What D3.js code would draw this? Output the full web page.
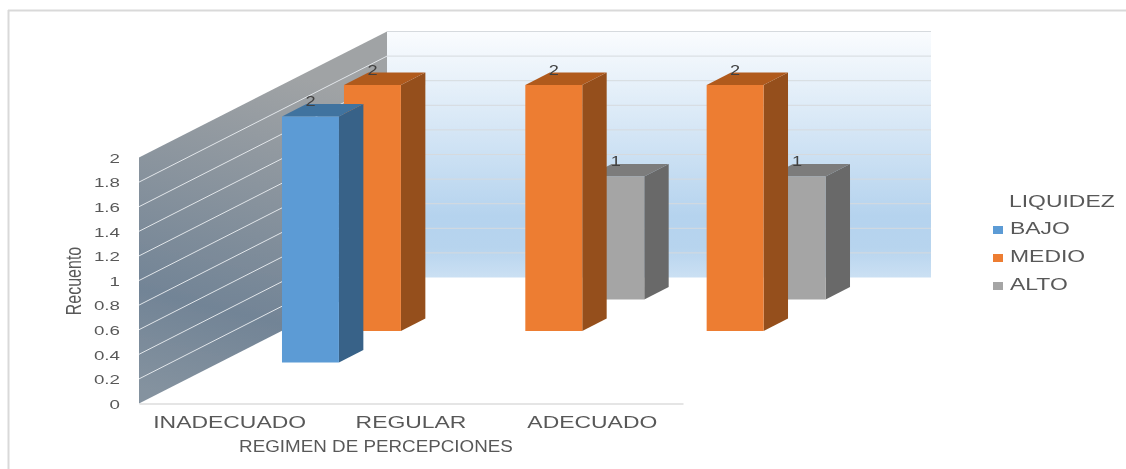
<!DOCTYPE html>
<html>
<head>
<meta charset="utf-8">
<script src="https://cdn.jsdelivr.net/npm/d3@7"></script>
<style>
  html, body { margin: 0; padding: 0; background: #fff; overflow: hidden; }
  text { font-family: "Liberation Sans", Arial, sans-serif; }
</style>
</head>
<body>
<div id="chart-area"></div>
<script>
// chart data
const categories = ["INADECUADO", "REGULAR", "ADECUADO"]
const seriesNames = ["BAJO", "MEDIO", "ALTO"]
const bajoValues = [2, null, null]
const medioValues = [2, 2, 2]
const altoValues = [null, 1, 1]
const yTicks = [0, 0.2, 0.4, 0.6, 0.8, 1, 1.2, 1.4, 1.6, 1.8, 2]
const seriesColors = ["#5b9bd5", "#ed7d31", "#a5a5a5"]
const topColors = ["#41739f", "#b05a1f", "#7b7b7b"]
const sideColors = ["#376288", "#95501b", "#696969"]

const WIDTH = 1126
const HEIGHT = 469

// front plane of the 3d box and how far the back wall is shifted
const FRONT = { LEFT: 139, RIGHT: 683, TOP: 157.5, BOTTOM: 403.5 }
const DEPTH = { X: 248, Y: 126 }
// the source picture was stretched sideways, so all text is too
const STRETCH = 1.39
const TEXT_SIZE = 16.5

const svg = d3.select("#chart-area").append("svg")
    .attr("width", WIDTH)
    .attr("height", HEIGHT)

const defs = svg.append("defs")

const soft = defs.append("filter").attr("id", "soft")
    .attr("filterUnits", "userSpaceOnUse")
    .attr("x", 0).attr("y", 0).attr("width", WIDTH).attr("height", HEIGHT)
soft.append("feGaussianBlur").attr("stdDeviation", 0.6)

const backGrad = defs.append("linearGradient").attr("id", "backWall")
    .attr("x1", 0).attr("y1", 0).attr("x2", 0).attr("y2", 1)
backGrad.append("stop").attr("offset", "0").attr("stop-color", "#fafcfe")
backGrad.append("stop").attr("offset", "0.75").attr("stop-color", "#b5d3ee")
backGrad.append("stop").attr("offset", "0.88").attr("stop-color", "#b7d4ee")
backGrad.append("stop").attr("offset", "1").attr("stop-color", "#cbe0f3")

const sideGrad = defs.append("linearGradient").attr("id", "sideWall")
    .attr("gradientUnits", "userSpaceOnUse")
    .attr("x1", 270).attr("y1", 70).attr("x2", 190).attr("y2", 400)
sideGrad.append("stop").attr("offset", "0").attr("stop-color", "#a0a3a5")
sideGrad.append("stop").attr("offset", "0.72").attr("stop-color", "#728496")
sideGrad.append("stop").attr("offset", "1").attr("stop-color", "#84929f")

const root = svg.append("g").attr("filter", "url(#soft)")

// scales
const x = d3.scaleBand()
    .domain(categories)
    .range([FRONT.LEFT, FRONT.RIGHT])
    .paddingInner(0.686)
    .paddingOuter(0.343)

const y = d3.scaleLinear()
    .domain([0, 2])
    .range([FRONT.BOTTOM, FRONT.TOP])

// depth axis has an empty first slot, the bars sit in the last three
const z = d3.scaleBand()
    .domain(["", ...seriesNames])
    .range([0, 1])
    .paddingInner(0.606)
    .paddingOuter(0.303)

// z is 0 at the front plane, 1 at the back wall
const px = (xv, zv) => xv + zv * DEPTH.X
const py = (yv, zv) => yv - zv * DEPTH.Y
const pts = list => list.map(p => [px(p[0], p[2]), py(p[1], p[2])].join(",")).join(" ")

// frame of the pasted picture
root.append("line").attr("x1", 8).attr("x2", WIDTH).attr("y1", 10.5).attr("y2", 10.5)
    .attr("stroke", "#d9d9d9").attr("stroke-width", 2)
root.append("line").attr("x1", 8.5).attr("x2", 8.5).attr("y1", 10).attr("y2", HEIGHT)
    .attr("stroke", "#d9d9d9").attr("stroke-width", 2)

// walls
const y0 = y(0), y2 = y(2), xl = FRONT.LEFT, xr = FRONT.RIGHT

root.append("polygon")
    .attr("points", pts([[xl, y0, 1], [xr, y0, 1], [xr, y2, 1], [xl, y2, 1]]))
    .attr("fill", "url(#backWall)")

root.append("polygon")
    .attr("points", pts([[xl, y0, 0], [xl, y0, 1], [xl, y2, 1], [xl, y2, 0]]))
    .attr("fill", "url(#sideWall)")

root.selectAll(".back-grid")
    .data(yTicks.slice(1))
    .enter().append("line")
    .attr("class", "back-grid")
    .attr("x1", px(xl, 1)).attr("x2", px(xr, 1))
    .attr("y1", d => py(y(d), 1)).attr("y2", d => py(y(d), 1))
    .attr("stroke", "#d6dade").attr("stroke-width", 1)

root.selectAll(".side-grid")
    .data(yTicks.slice(1, -1))
    .enter().append("line")
    .attr("class", "side-grid")
    .attr("x1", px(xl, 0)).attr("x2", px(xl, 1))
    .attr("y1", d => py(y(d), 0)).attr("y2", d => py(y(d), 1))
    .attr("stroke", "#e2e6ea").attr("stroke-width", 1)

// y axis
const yAxis = d3.axisLeft(y).tickValues(yTicks).tickSize(0).tickFormat(d => d)
const yG = root.append("g")
    .attr("transform", `translate(${FRONT.LEFT},0)`)
    .call(yAxis)
yG.select(".domain").remove()
yG.selectAll("text")
    .attr("x", -19 / STRETCH)
    .attr("dy", "0.35em")
    .attr("transform", `scale(${STRETCH},1)`)
    .attr("font-size", 13.5)
    .attr("fill", "#595959")

// x axis, the domain path is the front edge of the floor
const xAxis = d3.axisBottom(x).tickSize(0)
const xG = root.append("g")
    .attr("transform", `translate(0,${FRONT.BOTTOM})`)
    .call(xAxis)
xG.select(".domain").attr("stroke", "#dcdcdc").attr("stroke-width", 1.5)
xG.selectAll(".tick").attr("transform", d => `translate(${x(d) + x.bandwidth() / 2},0)`)
xG.selectAll("text")
    .attr("y", 25)
    .attr("dy", 0)
    .attr("transform", `scale(${STRETCH},1)`)
    .attr("font-size", TEXT_SIZE)
    .attr("fill", "#595959")

// axis titles
root.append("text")
    .attr("transform", `translate(376,452) scale(1.14,1)`)
    .attr("text-anchor", "middle")
    .attr("font-size", TEXT_SIZE)
    .attr("fill", "#595959")
    .text("REGIMEN DE PERCEPCIONES")

root.append("text")
    .attr("transform", `translate(81,281) scale(${STRETCH},1) rotate(-90)`)
    .attr("text-anchor", "middle")
    .attr("font-size", 16)
    .attr("fill", "#595959")
    .text("Recuento")

// bars, back row first so nearer ones cover them
const allValues = [bajoValues, medioValues, altoValues]
const bars = []
seriesNames.forEach((name, s) => {
    categories.forEach((cat, c) => {
        if (allValues[s][c] !== null) bars.push({ name, cat, value: allValues[s][c], s })
    })
})
bars.sort((a, b) => b.s - a.s)

const barG = root.selectAll(".bar")
    .data(bars)
    .enter().append("g")
    .attr("class", "bar")

const faces = d => ({
    x0: x(d.cat),
    x1: x(d.cat) + x.bandwidth(),
    yb: y(0),
    yt: y(d.value),
    z0: z(d.name),
    z1: z(d.name) + z.bandwidth()
})

barG.append("polygon")
    .attr("fill", d => sideColors[d.s])
    .attr("points", d => {
        const f = faces(d)
        return pts([[f.x1, f.yb, f.z0], [f.x1, f.yb, f.z1], [f.x1, f.yt, f.z1], [f.x1, f.yt, f.z0]])
    })

barG.append("polygon")
    .attr("fill", d => topColors[d.s])
    .attr("points", d => {
        const f = faces(d)
        return pts([[f.x0, f.yt, f.z0], [f.x1, f.yt, f.z0], [f.x1, f.yt, f.z1], [f.x0, f.yt, f.z1]])
    })

barG.append("polygon")
    .attr("fill", d => seriesColors[d.s])
    .attr("points", d => {
        const f = faces(d)
        return pts([[f.x0, f.yb, f.z0], [f.x1, f.yb, f.z0], [f.x1, f.yt, f.z0], [f.x0, f.yt, f.z0]])
    })

// value labels go on top so the bars in front do not hide them
root.selectAll(".value-label")
    .data(bars)
    .enter().append("text")
    .attr("class", "value-label")
    .attr("transform", d => {
        const f = faces(d)
        const lx = px((f.x0 + f.x1) / 2, f.z0)
        const ly = py(f.yt, f.z1) + 2
        return `translate(${lx},${ly}) scale(1.3,1)`
    })
    .attr("text-anchor", "middle")
    .attr("font-size", 14)
    .attr("fill", "#404040")
    .text(d => d.value)

// legend
const legendY = d3.scalePoint()
    .domain(seriesNames)
    .range([234, 290])

root.append("text")
    .attr("transform", `translate(1009,207) scale(${STRETCH},1)`)
    .attr("font-size", TEXT_SIZE)
    .attr("fill", "#595959")
    .text("LIQUIDEZ")

const legend = root.selectAll(".legend")
    .data(seriesNames)
    .enter().append("g")
    .attr("class", "legend")
    .attr("transform", d => `translate(993,${legendY(d)})`)

legend.append("rect")
    .attr("y", -8).attr("width", 10).attr("height", 8)
    .attr("fill", (d, i) => seriesColors[i])

legend.append("text")
    .attr("transform", `translate(17,0) scale(${STRETCH},1)`)
    .attr("font-size", TEXT_SIZE)
    .attr("fill", "#595959")
    .text(d => d)
</script>
</body>
</html>
